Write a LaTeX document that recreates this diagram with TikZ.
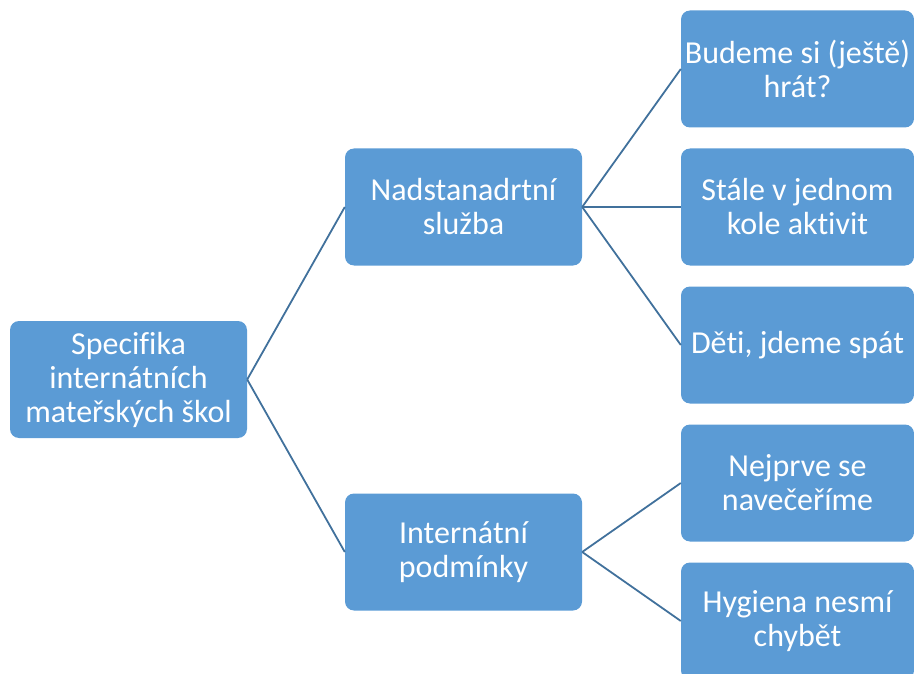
\documentclass[tikz,border=0pt]{standalone}
\usepackage{fontspec}
\setmainfont{Carlito}[Ligatures=NoCommon]
\definecolor{boxfill}{HTML}{5B9BD5}
\definecolor{linkline}{HTML}{41719C}
\tikzset{
  topicbox/.style={rectangle, rounded corners=9pt, fill=boxfill,
                   minimum width=237pt, minimum height=117pt, inner sep=0pt,
                   align=center, text=white, font=\fontsize{32}{34}\selectfont},
  leafbox/.style={topicbox, minimum width=233pt},
  link/.style={draw=linkline, line width=1.8pt},
}

\begin{document}
\begin{tikzpicture}[x=1pt, y=-1pt]
    \useasboundingbox (0,0) rectangle (914,674);
    \node[topicbox] (spec) at (128.5, 379.5) {Specifika\\internátních\\mateřských škol};
    \node[topicbox] (sluzba) at (463.5, 207) {Nadstanadrtní\\služba};
    \node[topicbox] (podm) at (463.5, 552) {Internátní\\podmínky};
    \node[leafbox] (l1) at (797.5, 69) {Budeme si (ještě)\\hrát?};
    \node[leafbox] (l2) at (797.5, 207) {Stále v jednom\\kole aktivit};
    \node[leafbox] (l3) at (797.5, 345) {Děti, jdeme spát};
    \node[leafbox] (l4) at (797.5, 483) {Nejprve se\\navečeříme};
    \node[leafbox] (l5) at (797.5, 621) {Hygiena nesmí\\chybět};
    \draw[link] (spec.east) -- (sluzba.west);
    \draw[link] (spec.east) -- (podm.west);
    \foreach \k in {l1,l2,l3} \draw[link] (sluzba.east) -- (\k.west);
    \foreach \k in {l4,l5} \draw[link] (podm.east) -- (\k.west);
  \end{tikzpicture}
\end{document}
